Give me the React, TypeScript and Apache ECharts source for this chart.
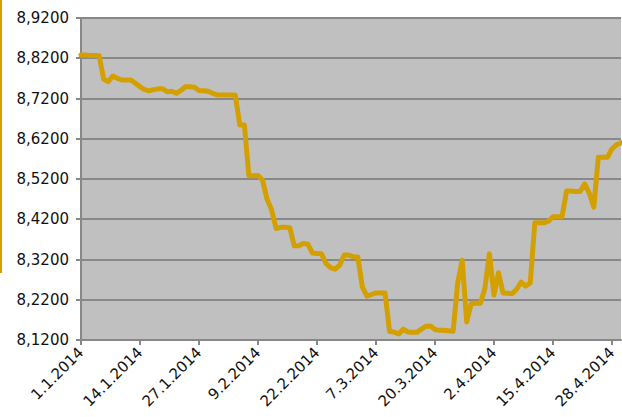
import React, { useEffect, useRef } from "react";
import * as echarts from "echarts";

const startYear = 2014;
const dayCount = 120;
const categories: string[] = [];
for (let i = 0; i < dayCount; i++) {
  const d = new Date(Date.UTC(startYear, 0, 1 + i));
  categories.push(`${d.getUTCDate()}.${d.getUTCMonth() + 1}.${d.getUTCFullYear()}`);
}

const rateValues = [
  8.828, 8.828, 8.827, 8.827, 8.826, 8.768, 8.762, 8.776, 8.770, 8.766,
  8.766, 8.766, 8.758, 8.749, 8.742, 8.739, 8.742, 8.744, 8.744, 8.737,
  8.738, 8.733, 8.740, 8.749, 8.749, 8.748, 8.740, 8.739, 8.738, 8.733,
  8.729, 8.729, 8.729, 8.729, 8.728, 8.654, 8.654, 8.528, 8.528, 8.529,
  8.517, 8.470, 8.443, 8.397, 8.400, 8.400, 8.399, 8.354, 8.354, 8.360,
  8.358, 8.336, 8.335, 8.334, 8.310, 8.300, 8.296, 8.306, 8.331, 8.331,
  8.327, 8.326, 8.252, 8.229, 8.233, 8.237, 8.237, 8.237, 8.141, 8.140,
  8.135, 8.147, 8.140, 8.139, 8.139, 8.147, 8.154, 8.155, 8.146, 8.144,
  8.144, 8.143, 8.142, 8.261, 8.318, 8.165, 8.211, 8.211, 8.211, 8.248,
  8.334, 8.232, 8.287, 8.237, 8.236, 8.235, 8.246, 8.264, 8.254, 8.262,
  8.411, 8.411, 8.411, 8.415, 8.426, 8.426, 8.426, 8.490, 8.490, 8.489,
  8.489, 8.508, 8.485, 8.450, 8.574, 8.574, 8.574, 8.595, 8.605, 8.610,
];

const yMin = 8.12;
const yMax = 8.92;
const yStep = 0.1;

export default function App() {
  const ref = useRef<HTMLDivElement>(null);
  useEffect(() => {
    if (!ref.current) return;
    const chart = echarts.init(ref.current, null, { renderer: "svg" });
    chart.setOption({
      animation: false,
      textStyle: { fontFamily: "DejaVu Sans" },
      grid: {
        left: 81,
        top: 18,
        right: 1,
        bottom: 77,
        show: true,
        backgroundColor: "#c0c0c0",
        borderWidth: 0,
      },
      graphic: [
        {
          type: "rect",
          shape: { x: 0, y: 0, width: 2, height: 273 },
          style: { fill: "#d4a000" },
        },
      ],
      xAxis: {
        type: "category",
        data: categories,
        boundaryGap: false,
        axisLine: { lineStyle: { color: "#888888", width: 2 } },
        axisTick: {
          show: true,
          interval: 12,
          length: 5,
          lineStyle: { color: "#888888", width: 2 },
        },
        axisLabel: {
          interval: 12,
          rotate: 45,
          margin: 10,
          fontSize: 15,
          color: "#111111",
          fontFamily: "DejaVu Sans",
        },
        splitLine: { show: false },
      },
      yAxis: {
        type: "value",
        min: yMin,
        max: yMax,
        interval: yStep,
        axisLine: { show: true, lineStyle: { color: "#888888", width: 2 } },
        axisTick: { show: true, length: 5, lineStyle: { color: "#888888", width: 2 } },
        axisLabel: {
          margin: 12,
          fontSize: 15,
          color: "#111111",
          fontFamily: "DejaVu Sans",
          formatter: (v: number) => v.toFixed(4).replace(".", ","),
        },
        splitLine: { show: true, lineStyle: { color: "#888888", width: 2 } },
      },
      series: [
        {
          type: "line",
          data: rateValues,
          symbol: "none",
          lineStyle: { color: "#d4a000", width: 5, join: "round", cap: "round" },
        },
      ],
    });
    return () => chart.dispose();
  }, []);
  return <div ref={ref} style={{ width: 622, height: 417, position: "absolute", left: 0, top: 0 }} />;
}
